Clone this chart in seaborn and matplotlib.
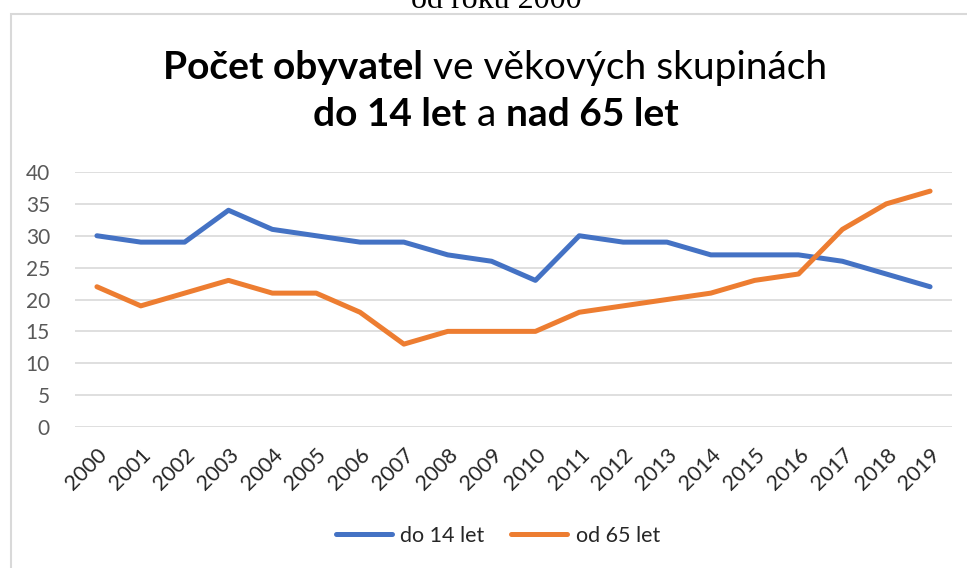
import numpy as np
import pandas as pd
import seaborn as sns
import matplotlib.pyplot as plt
from matplotlib.patches import Rectangle

# === data ===
roky = ["2000", "2001", "2002", "2003", "2004", "2005", "2006", "2007", "2008", "2009",
        "2010", "2011", "2012", "2013", "2014", "2015", "2016", "2017", "2018", "2019"]
do_14 = [30, 29, 29, 34, 31, 30, 29, 29, 27, 26, 23, 30, 29, 29, 27, 27, 27, 26, 24, 22]
od_65 = [22, 19, 21, 23, 21, 21, 18, 13, 15, 15, 15, 18, 19, 20, 21, 23, 24, 31, 35, 37]
serie = ["do 14 let", "od 65 let"]
barvy = ["#4472C4", "#ED7D31"]
y_ticks = [0, 5, 10, 15, 20, 25, 30, 35, 40]

df = pd.DataFrame({
    "rok": roky * 2,
    "pocet": do_14 + od_65,
    "skupina": [serie[0]] * len(roky) + [serie[1]] * len(roky),
})

sns.set_style("white")
plt.rcParams["font.family"] = ["Lato", "DejaVu Sans"]

W, H = 967, 568
fig = plt.figure(figsize=(W / 100, H / 100), dpi=100)
ax = fig.add_axes([75 / W, 1 - 427 / H, (952 - 75) / W, (427 - 172) / H])

sns.lineplot(data=df, x="rok", y="pocet", hue="skupina", palette=barvy,
             linewidth=3.6, ax=ax, legend=False, sort=False)
for ln in ax.lines:
    ln.set_solid_capstyle("round")
    ln.set_solid_joinstyle("round")

ax.set_xlim(-0.5, len(roky) - 0.5)
ax.set_ylim(0, 40)
ax.set_yticks(y_ticks)
ax.yaxis.grid(True, color="#d9d9d9", linewidth=1.2)
ax.set_axisbelow(True)
for s in ax.spines.values():
    s.set_visible(False)
ax.set_xlabel("")
ax.set_ylabel("")
ax.tick_params(axis="both", length=0)
ax.tick_params(axis="y", labelsize=15, pad=18, labelcolor="#595959")
ax.tick_params(axis="x", labelsize=15.5, pad=13, labelcolor="#262626")
for lab in ax.get_xticklabels():
    lab.set_rotation(45)
    lab.set_ha("right")
    lab.set_rotation_mode("anchor")

# chart frame (cut by the image edge)
fig.patches.append(Rectangle((11 / W, -0.02), 1.05, 1 - 14 / H + 0.02,
                             transform=fig.transFigure, fill=False,
                             edgecolor="#d9d9d9", linewidth=1.5))

# text above the chart, mostly cut off at the top
fig.text(496 / W, 1 - 8 / H, "od roku 2000", family="Liberation Serif",
         fontsize=23, ha="center", va="baseline", color="black")

# title with bold and normal parts
renderer = fig.canvas.get_renderer()


def title_line(parts, base_px, cx_px, size):
    texts = []
    for s, w in parts:
        t = fig.text(0, 1 - base_px / H, s, fontsize=size, fontweight=w,
                     va="baseline", ha="left", color="black")
        texts.append(t)
    widths = [t.get_window_extent(renderer).width for t in texts]
    x = cx_px - sum(widths) / 2
    for t, w in zip(texts, widths):
        t.set_x(x / W)
        x += w


title_line([("Počet obyvatel", "bold"), (" ve věkových skupinách", "normal")], 79, 495, 28)
title_line([("do 14 let", "bold"), (" a ", "normal"), ("nad 65 let", "bold")], 126, 496, 28)

handles = [plt.Line2D([], [], color=c, linewidth=3.6, solid_capstyle="round") for c in barvy]
fig.legend(handles, serie, loc="center", bbox_to_anchor=(498 / W, 1 - 536 / H),
           ncol=2, frameon=False, fontsize=15.5, handlelength=2.6,
           handletextpad=0.4, columnspacing=1.25, labelcolor="#262626")

fig.savefig("out.png", dpi=100)
